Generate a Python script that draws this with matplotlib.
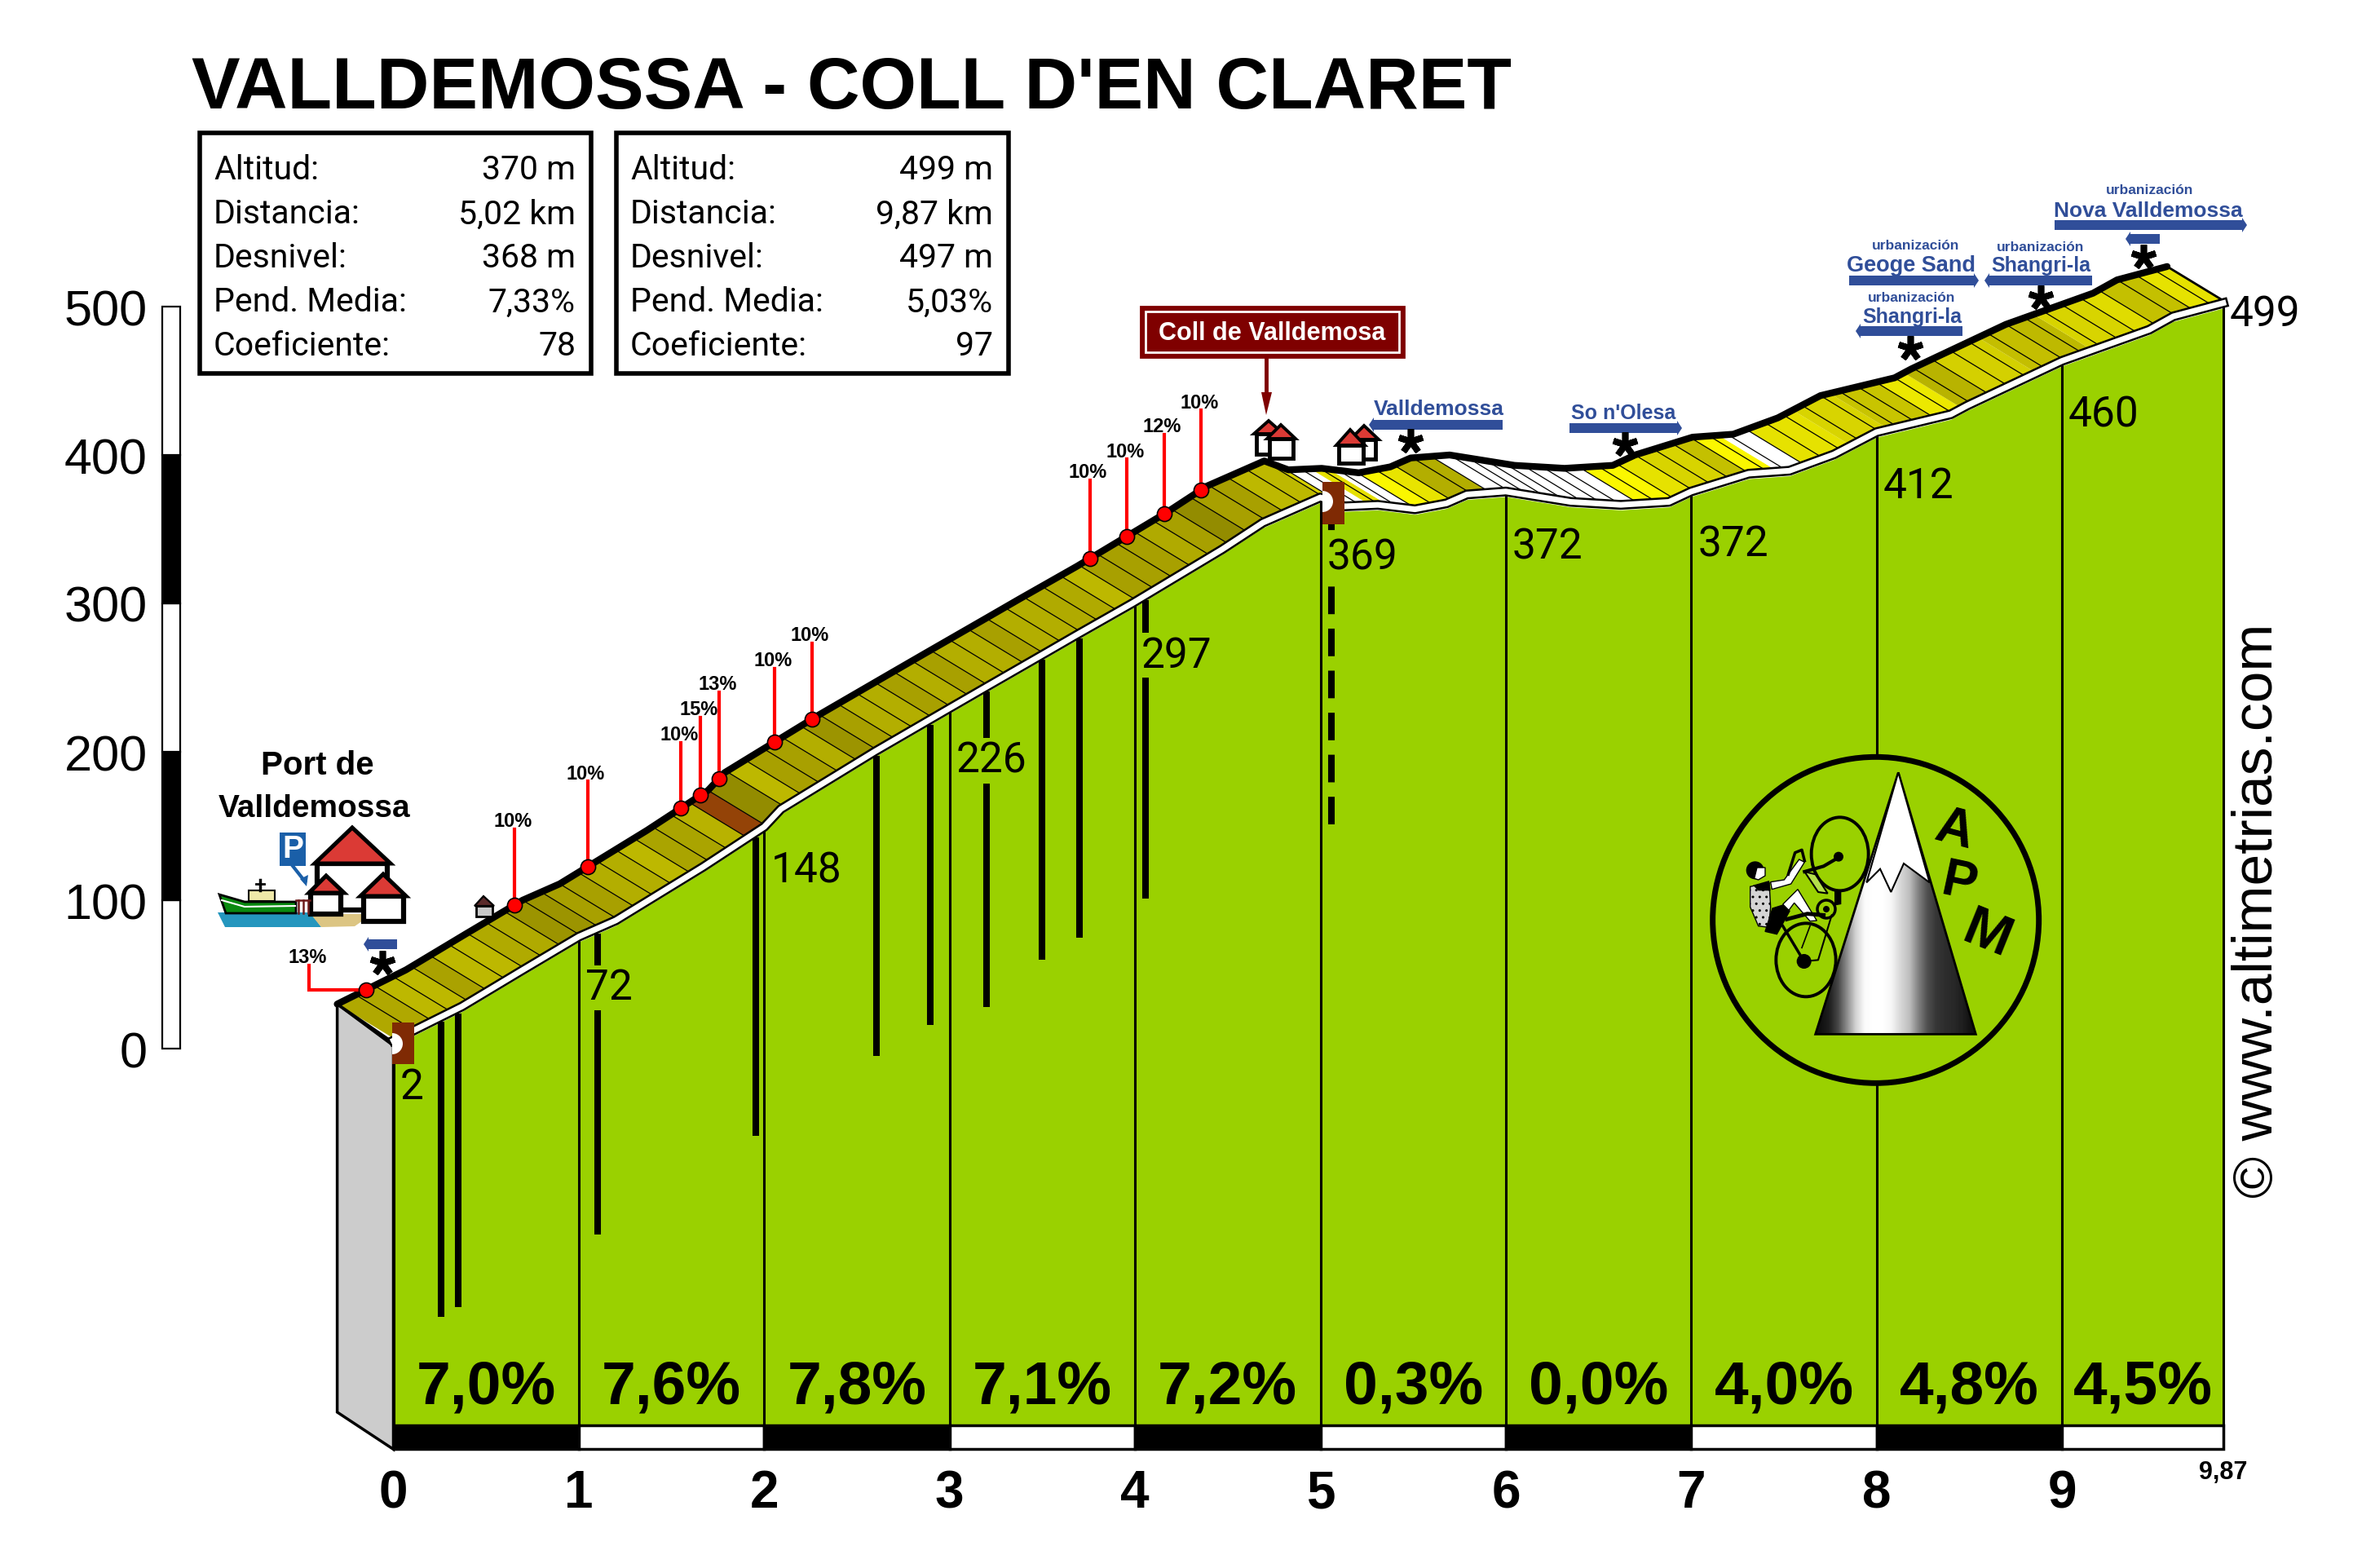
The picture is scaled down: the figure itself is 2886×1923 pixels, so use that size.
import numpy as np
import matplotlib
matplotlib.use('Agg')
import matplotlib.pyplot as plt
from matplotlib.patches import Polygon, Rectangle, Ellipse, Circle, Wedge

# profile
profile_km = [0, 0.37, 0.69, 1.0, 1.2, 1.67, 2.0, 2.09, 2.6, 3.0, 3.18, 3.5, 3.68, 3.99, 4.47, 4.69, 5.0,
              5.13, 5.31, 5.51, 5.68, 5.79, 6.0, 6.35, 6.62, 6.88, 7.0, 7.31, 7.53, 7.77, 8.0,
              8.4, 8.49, 9.0, 9.47, 9.6, 9.87]
profile_alt = [2, 25, 49, 72, 83, 119, 146, 158, 197, 226, 239, 262, 275, 297, 333, 351, 368,
               362, 363, 360, 364, 370, 372, 365, 363, 365, 372, 384, 386, 397, 412,
               424, 430, 460, 481, 490, 499]

km_ticks = [0, 1, 2, 3, 4, 5, 6, 7, 8, 9]
km_alt_labels = ['2', '72', '148', '226', '297', '369', '372', '372', '412', '460', '499']
km_alt_label_km = [0, 1, 2, 3, 4, 5, 6, 7, 8, 9, 9.87]
km_alt_label_y = [-23, 44, 123, 197, 268, 334, 341, 343, 382, 430, 498]

km_pct = ['7,0%', '7,6%', '7,8%', '7,1%', '7,2%', '0,3%', '0,0%', '4,0%', '4,8%', '4,5%']
km_pct_x = [0.5, 1.5, 2.5, 3.5, 4.5, 5.5, 6.5, 7.5, 8.5, 9.435]

alt_ticks = [0, 100, 200, 300, 400, 500]

# road slices along the km axis, colour of every stretch
band_edges = [0, 0.2, 0.4, 0.5, 0.7, 0.9, 1.1, 1.3, 1.5, 1.6, 1.8, 1.9, 2.0, 2.1, 2.2, 2.4, 2.5, 2.6, 2.7, 2.9,
              3.0, 3.1, 3.2, 3.4, 3.5, 3.7, 3.9, 4.0, 4.3, 4.4, 4.5, 4.6, 4.8, 5.0, 5.1, 5.25, 5.35, 5.5, 5.6, 5.7,
              5.9, 6.7, 6.9, 7.0, 7.2, 7.3, 7.45, 7.6, 7.85, 8.05, 8.3, 8.45, 8.6, 8.85, 9.0, 9.15, 9.4, 9.5, 9.7, 9.87]
band_colors = ['#B0A800', '#BDB800', '#AAA200', '#BDB800', '#B0AA00', '#9C9400', '#A8A000', '#B3AE00', '#BDB800',
               '#AAA400', '#B8B200', '#944307', '#938C00', '#BDB800', '#A8A000', '#B3AE00', '#9C9400', '#A8A000',
               '#B3AE00', '#A8A000', '#B3AE00', '#A8A000', '#B3AE00', '#A8A000', '#B3AE00', '#B0AA00', '#BDB800',
               '#A8A000', '#B0AA00', '#A8A000', '#938C00', '#A8A000', '#BDB800', '#D6D000', '#FFFFFF', '#E6E000',
               '#FFFFFF', '#FBF700', '#E8E400', '#B3AE00', '#FFFFFF', '#FBF700', '#E6E200', '#D8D400', '#C4C000',
               '#FBF700', '#FFFFFF', '#E6E200', '#D8D400', '#C8C400', '#ECE800', '#B8B300', '#D4D000', '#C4BE00',
               '#BEB900', '#D8D400', '#E0DC00', '#C4C000', '#E6E200']

# steep points on the road
steep_km = [0.155, 0.957, 1.35, 1.855, 1.96, 2.06, 2.36, 2.56, 4.06, 4.26, 4.46, 4.66]
steep_pct = ['13%', '10%', '10%', '10%', '15%', '13%', '10%', '10%', '10%', '10%', '12%', '10%']
steep_label_alt = [63, 155, 187, 213, 230, 247, 263, 280, 390, 404, 421, 437]

# thick black bars under the profile
bar_km = [0.257, 0.35, 1.10, 1.955, 2.605, 2.895, 3.20, 3.50, 3.70, 4.057]
bar_bottom = [-181, -174, -125, -59, -5, 16, 28, 60, 75, 101]
dash_km = 5.06
dash_bottom = 151

box_rows = ['Altitud:', 'Distancia:', 'Desnivel:', 'Pend. Media:', 'Coeficiente:']
box1_values = ['370 m', '5,02 km', '368 m', '7,33%', '78']
box2_values = ['499 m', '9,87 km', '497 m', '5,03%', '97']

logo_shade = [15, 30, 70, 140, 210, 250, 255, 255, 245, 215, 190, 130, 80, 55, 45, 40, 30, 15]

GREEN = '#9AD100'
BLUE = '#304E99'
NARROW = 'Roboto'
SANS = 'Liberation Sans'
MID = 'center_baseline'

fig = plt.figure(figsize=(28.86, 19.24), dpi=100)

# main axes: km / m, scale taken from the km lines and the altitude bar
ax = fig.add_axes([0, 0, 1, 1])
PX_KM = 227.4
PX_M = 1.82
ax.set_xlim(-482.5 / PX_KM, (2886 - 482.5) / PX_KM)
ax.set_ylim((1287 - 1924) / PX_M, 1287 / PX_M)
ax.axis('off')

DX = 0.303
DY = 28
km = np.array(profile_km)
alt = np.array(profile_alt)
BASE = -254

# grey side
ax.add_patch(Polygon([(0, alt[0]), (-DX, alt[0] + DY), (-DX, -245), (0, -270)], fc='#CCCCCC', ec='k', lw=2.5, zorder=1))

# green front
ax.fill_between(km, BASE, alt, color=GREEN, lw=0, zorder=2)

# km lines and thick bars
for k in list(km_ticks) + [9.87]:
    ax.plot([k, k], [BASE, np.interp(k, km, alt)], color='k', lw=2.2, zorder=3)
for k, b in zip(bar_km, bar_bottom):
    ax.plot([k, k], [b, np.interp(k, km, alt)], color='k', lw=5.8, solid_capstyle='butt', zorder=3)
ax.plot([dash_km, dash_km], [dash_bottom, np.interp(dash_km, km, alt)], color='k', lw=5.8,
        linestyle=(0, (4.2, 2.2)), zorder=3)

# road slices
FRONT = 5
for i, c in enumerate(band_colors):
    a = np.arange(band_edges[i], band_edges[i + 1] + 0.001, 0.05)
    if a[-1] < band_edges[i + 1]:
        a = np.append(a, band_edges[i + 1])
    h = np.interp(a, km, alt)
    pts = list(zip(a - DX, h + DY)) + list(zip(a[::-1], h[::-1] + FRONT))
    ax.add_patch(Polygon(pts, fc=c, ec='none', zorder=4))
for k in np.arange(0.1, 9.87, 0.1):
    h = np.interp(k, km, alt)
    ax.plot([k - DX, k], [h + DY, h + FRONT], color='k', lw=0.9, zorder=5)
ax.plot([-DX, 0], [alt[0] + DY, alt[0] + FRONT - 3], color='k', lw=2.5, zorder=5)
ax.plot([km[-1] - DX, km[-1]], [alt[-1] + DY, alt[-1] + FRONT], color='k', lw=2, zorder=5)

# white strip under the road and top line
ax.plot(km, alt + 3.4, color='k', lw=8.6, zorder=6, solid_joinstyle='round')
ax.plot(km, alt + 3.4, color='w', lw=5, zorder=7, solid_joinstyle='round')
ax.plot(km - DX, alt + DY, color='k', lw=6, zorder=8, solid_joinstyle='round', solid_capstyle='round')

# black and white km strip
for i in range(10):
    x0 = km_ticks[i]
    x1 = km_ticks[i + 1] if i < 9 else 9.87
    ax.add_patch(Rectangle((x0, -270), x1 - x0, 16, fc='k' if i % 2 == 0 else 'w', ec='k', lw=2.5, zorder=3))
    ax.text(x0, -296, str(km_ticks[i]), family=SANS, weight='bold', fontsize=46, ha='center', va=MID, zorder=10)
    ax.text(km_pct_x[i], -224, km_pct[i], family=SANS, weight='bold', fontsize=54, ha='center', va=MID, zorder=10)
ax.text(9.87, -283, '9,87', family=SANS, weight='bold', fontsize=22, ha='center', va=MID, zorder=10)

# altitude labels on the front
for k, lab, y in zip(km_alt_label_km, km_alt_labels, km_alt_label_y):
    kw = {}
    if lab not in ('2', '499'):
        kw['bbox'] = dict(fc=GREEN, ec='none', pad=2)
    ax.text(k + 0.035, y, lab, family=NARROW, fontsize=37, ha='left', va=MID, zorder=5, **kw)

# altitude bar
for i in range(5):
    ax.add_patch(Rectangle((-1.247, alt_ticks[i]), 0.097, 100, fc='k' if i % 2 == 1 else 'w', ec='k', lw=1.6, zorder=3))
for t in alt_ticks:
    ax.text(-1.327, t, str(t), family=SANS, fontsize=44, ha='right', va=MID, zorder=3)

# steep markers
steep_y = np.interp(steep_km, km, alt) + DY
for i in range(len(steep_km)):
    if i == 0:
        ax.plot([steep_km[i] - DX, -0.455, -0.455], [steep_y[i], steep_y[i], steep_label_alt[i] - 7],
                color='#FF0000', lw=3, zorder=9, solid_joinstyle='miter')
        ax.text(-0.465, steep_label_alt[i], steep_pct[i], family=SANS, weight='bold', fontsize=17, ha='center', va=MID, zorder=9)
    else:
        ax.plot([steep_km[i] - DX] * 2, [steep_y[i], steep_label_alt[i] - 7], color='#FF0000', lw=3, zorder=9)
        ax.text(steep_km[i] - DX - 0.01, steep_label_alt[i], steep_pct[i], family=SANS, weight='bold', fontsize=17,
                ha='center', va=MID, zorder=9)
ax.scatter(np.array(steep_km) - DX, steep_y, s=170, c='#FF0000', edgecolors='k', linewidths=1.2, zorder=10)

# overlay in picture pixels for signs, boxes and logos
dx = fig.add_axes([0, 0, 1, 1], zorder=2)
dx.set_xlim(0, 2886)
dx.set_ylim(1924, 0)
dx.axis('off')
dx.patch.set_alpha(0)

dx.text(235, 133, "VALLDEMOSSA - COLL D'EN CLARET", family=SANS, weight='bold', fontsize=64.4, ha='left', va='baseline')

row_y = [204.5, 259, 312.5, 367, 420.5]
for x0, x1, vals in [(245, 725, box1_values), (756, 1237, box2_values)]:
    dx.add_patch(Rectangle((x0, 164), x1 - x0, 295, fc='w', ec='k', lw=4))
    for y, lab, v in zip(row_y, box_rows, vals):
        dx.text(x0 + 17, y, lab, family=NARROW, fontsize=29.5, ha='left', va=MID)
        dx.text(x1 - 19, y, v, family=NARROW, fontsize=29.5, ha='right', va=MID)

dx.text(2769, 1117, '\u00a9 www.altimetrias.com', family=SANS, fontsize=50, rotation=90, ha='center', va='center')


def house(x0, x1, top, bottom, rx0, rx1, apex_x, apex_y, roof='#DB3A35', body='w', lw=3.5):
    dx.add_patch(Rectangle((x0, top), x1 - x0, bottom - top, fc=body, ec='k', lw=lw))
    dx.add_patch(Polygon([(rx0, top), (rx1, top), (apex_x, apex_y)], fc=roof, ec='k', lw=lw * 0.8, joinstyle='miter'))


def blue_arrow(x0, x1, y, head, h=12):
    # head on the side given: 'l' or 'r'
    if head == 'r':
        pts = [(x0, y - h / 2), (x1 - 6, y - h / 2), (x1 - 6, y - h / 2 - 3), (x1, y), (x1 - 6, y + h / 2 + 3), (x1 - 6, y + h / 2), (x0, y + h / 2)]
    else:
        pts = [(x1, y - h / 2), (x0 + 6, y - h / 2), (x0 + 6, y - h / 2 - 3), (x0, y), (x0 + 6, y + h / 2 + 3), (x0 + 6, y + h / 2), (x1, y + h / 2)]
    dx.add_patch(Polygon(pts, fc=BLUE, ec='none'))


def star(x, y):
    dx.plot([x], [y], marker=(5, 2, 0), ms=22, mew=5.5, color='k')


def blue(x, y, s, size):
    dx.text(x, y, s, family=SANS, weight='bold', fontsize=size, color=BLUE, ha='center', va='center')


# houses along the road
house(1541, 1558, 533, 558, 1538, 1574, 1556, 517)
house(1557, 1586, 539, 563, 1554, 1589, 1571, 522)
house(1672, 1687, 540, 564, 1656, 1691, 1673, 523)
house(1642, 1672, 547, 569, 1639, 1674, 1656, 528)
house(584, 604, 1112, 1125, 582, 606, 593, 1100, roof='#5A2A2A', body='#C8C8C8', lw=2)

# Coll de Valldemosa sign
dx.add_patch(Rectangle((1399, 377), 323, 62, fc='#7F0000', ec='#7F0000', lw=2))
dx.add_patch(Rectangle((1405, 383), 311, 50, fc='none', ec='w', lw=2))
dx.text(1560, 409, 'Coll de Valldemosa', family=SANS, weight='bold', fontsize=22, color='w', ha='center', va='center')
dx.plot([1553, 1553], [439, 485], color='#7F0000', lw=3.5)
dx.add_patch(Polygon([(1547, 482), (1560, 482), (1553, 510)], fc='#7F0000', ec='none'))

# blue place names
blue(1765, 502, 'Valldemossa', 19)
blue_arrow(1679, 1843, 522, 'l')
star(1730, 542)
blue(1991, 507, "So n'Olesa", 18)
blue_arrow(1925, 2063, 526, 'r')
star(1993, 546)
blue(2350, 302, 'urbanizaci\u00f3n', 12.5)
blue(2344, 326, 'Geoge Sand', 19.5)
blue_arrow(2268, 2427, 345, 'r')
blue(2503, 303, 'urbanizaci\u00f3n', 12.5)
blue(2503, 326, 'Shangri-la', 18)
blue_arrow(2434, 2566, 345, 'l')
star(2503, 366)
blue(2345, 366, 'urbanizaci\u00f3n', 12.5)
blue(2345, 389, 'Shangri-la', 18)
blue_arrow(2276, 2407, 407, 'l')
star(2343, 428)
blue(2637, 234, 'urbanizaci\u00f3n', 12.5)
blue(2635, 259, 'Nova Valldemossa', 19)
blue_arrow(2520, 2756, 277, 'r')
blue_arrow(2607, 2649, 294, 'l')
star(2629, 316)

# start: port picture
blue_arrow(446, 487, 1159, 'l')
star(469, 1182)
dx.text(389, 939, 'Port de', family=SANS, weight='bold', fontsize=29, ha='center', va='center')
dx.text(386, 992, 'Valldemossa', family=SANS, weight='bold', fontsize=28, ha='center', va='center')
dx.add_patch(Polygon([(267, 1120), (381, 1120), (394, 1138), (276, 1138)], fc='#2496BE', ec='none'))
dx.add_patch(Polygon([(381, 1122), (445, 1122), (445, 1130), (435, 1137), (394, 1138)], fc='#DCC583', ec='none'))
house(389, 475, 1060, 1117, 386, 479, 432, 1016, lw=4.5)
house(381, 418, 1096, 1122, 379, 422, 400, 1075, lw=4.5)
house(446, 495, 1100, 1131, 442, 498, 470, 1073, lw=4.5)
dx.add_patch(Polygon([(269, 1098), (300, 1107), (363, 1107), (363, 1121), (277, 1121)], fc='#0A8A10', ec='k', lw=2))
dx.plot([272, 300, 362], [1105, 1113, 1112], color='w', lw=1.5)
dx.add_patch(Rectangle((305, 1093), 32, 13, fc='#EFE8A8', ec='k', lw=1.5))
dx.plot([319, 319], [1080, 1093], color='k', lw=2.5)
dx.plot([314, 324], [1085, 1085], color='k', lw=2)
for x in [366, 372, 378]:
    dx.plot([x, x], [1105, 1121], color='#6E1C1C', lw=1.8)
dx.plot([363, 380], [1105, 1105], color='#6E1C1C', lw=1.8)
dx.add_patch(Rectangle((343, 1022), 32, 41, fc='#1A5FA8', ec='none'))
dx.text(359, 1042, 'P', family=SANS, weight='bold', fontsize=28, color='w', ha='center', va='center')
dx.plot([359, 374], [1063, 1082], color='#1A5FA8', lw=3)
dx.add_patch(Polygon([(368, 1079), (378, 1074), (376, 1088)], fc='#1A5FA8', ec='none'))

# brown posts at start and at km 5, the road shows through a notch
dx.add_patch(Rectangle((481, 1255), 27, 51, fc='#7F2A04', ec='none'))
dx.add_patch(Wedge((481, 1281), 13, -90, 90, fc='w', ec='none'))
dx.add_patch(Rectangle((1622, 592), 27, 52, fc='#7F2A04', ec='none'))
dx.add_patch(Wedge((1622, 616), 13, -90, 90, fc='w', ec='none'))


# logo, zoom coordinates of the crop at (2050, 880)
def L(x, y):
    return 2050 + x / 3, 880 + y / 3


def LP(pts):
    return [L(*p) for p in pts]


cx, cy = L(752, 748)
dx.add_patch(Circle((cx, cy), 200, fc=GREEN, ec='k', lw=5))

mountain = Polygon(LP([(530, 1168), (1120, 1168), (835, 205)]), fc='none', ec='none', transform=dx.transData)
dx.add_patch(mountain)
x0, y0 = L(530, 1168)
x1, y1 = L(1120, 205)
shade = np.array(logo_shade, dtype=float).reshape(1, -1)
im = dx.imshow(shade, cmap='gray', vmin=0, vmax=255, extent=(x0, x1, y0, y1), aspect='auto', interpolation='bilinear', zorder=1)
im.set_clip_path(mountain)
dx.set_xlim(0, 2886)
dx.set_ylim(1924, 0)
dx.add_patch(Polygon(LP([(530, 1168), (1120, 1168), (835, 205)]), fc='none', ec='k', lw=2))
dx.add_patch(Polygon(LP([(835, 205), (950, 610), (855, 540), (808, 645), (768, 560), (718, 610)]), fc='w', ec='k', lw=1.5))

dx.text(*L(1040, 415), 'A', family=SANS, weight='bold', fontsize=46, rotation=-15, ha='center', va='center')
dx.text(*L(1060, 612), 'P', family=SANS, weight='bold', fontsize=46, rotation=-12, ha='center', va='center')
dx.text(*L(1160, 800), 'M', family=SANS, weight='bold', fontsize=50, rotation=-22, ha='center', va='center')

# cyclist
for c, wx, wy in [((620, 505), 210, 270), ((495, 895), 220, 270)]:
    x, y = L(*c)
    dx.add_patch(Ellipse((x, y), wx / 3, wy / 3, fc='none', ec='k', lw=2.8))
dx.plot(*zip(*LP([(620, 515), (560, 550), (490, 570)])), color='k', lw=3)
dx.add_patch(Circle(L(615, 515), 6, fc='k', ec='none'))
dx.add_patch(Circle(L(488, 900), 9, fc='k', ec='none'))
dx.add_patch(Polygon(LP([(490, 570), (530, 580), (575, 650), (540, 645)]), fc='#B5E04A', ec='k', lw=1.5))
dx.plot(*zip(*LP([(488, 900), (410, 770)])), color='k', lw=2.5)
dx.plot(*zip(*LP([(488, 900), (540, 895), (590, 730)])), color='k', lw=1.5)
dx.plot(*zip(*LP([(480, 850), (510, 770)])), color='k', lw=1.2)
dx.plot(*zip(*LP([(425, 745), (500, 725), (560, 730)])), color='k', lw=3.5)
dx.add_patch(Polygon(LP([(600, 640), (625, 640), (625, 690), (600, 695)]), fc='k', ec='none'))
dx.add_patch(Circle(L(570, 708), 11, fc=GREEN, ec='k', lw=2.5))
dx.add_patch(Circle(L(570, 708), 4, fc='k', ec='none'))
dx.add_patch(Polygon(LP([(290, 625), (360, 610), (365, 700), (358, 775), (320, 770), (290, 700)]), fc='#D5D5D5', ec='k', lw=1, hatch='..'))
dx.add_patch(Polygon(LP([(372, 705), (420, 690), (435, 715), (388, 800), (345, 790)]), fc='k', ec='k'))
dx.add_patch(Polygon(LP([(410, 690), (465, 635), (535, 750), (510, 752), (452, 685), (432, 712)]), fc='w', ec='k', lw=1))
dx.add_patch(Polygon(LP([(365, 608), (415, 600), (470, 525), (490, 535), (440, 615), (370, 635)]), fc='w', ec='k', lw=1))
dx.add_patch(Polygon(LP([(300, 620), (360, 603), (365, 640), (320, 640)]), fc='k', ec='none'))
dx.add_patch(Circle(L(308, 565), 11, fc='k', ec='none'))
dx.add_patch(Polygon(LP([(315, 555), (345, 555), (345, 585), (320, 600), (305, 595)]), fc='w', ec='k', lw=1))
dx.plot(*zip(*LP([(430, 580), (455, 500), (480, 490), (490, 530)])), color='k', lw=2.5)

fig.savefig('out.png', dpi=100)
